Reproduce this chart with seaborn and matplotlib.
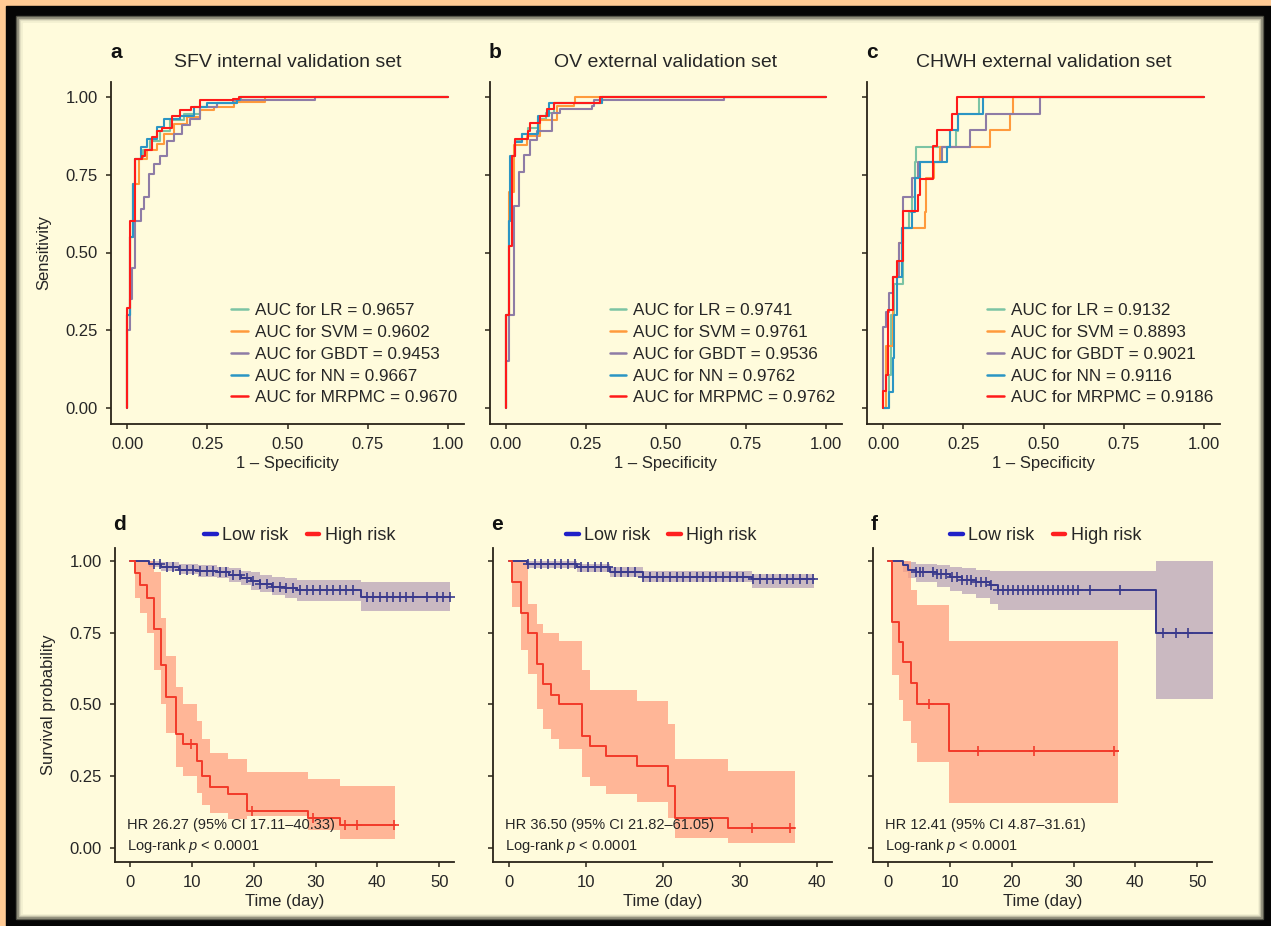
import numpy as np
import pandas as pd
import matplotlib
matplotlib.use('Agg')
import matplotlib.pyplot as plt
import seaborn as sns
from matplotlib.patches import Rectangle
from matplotlib.lines import Line2D

# ---------------- ROC data ----------------
models = ['LR', 'SVM', 'GBDT', 'NN', 'MRPMC']
roc_colors = ['#7cc4a4', '#ff9a3c', '#8e7ca6', '#2b95c4', '#ff1a1a']

auc_sfv = [0.9657, 0.9602, 0.9453, 0.9667, 0.9670]
auc_ov = [0.9741, 0.9761, 0.9536, 0.9762, 0.9762]
auc_chwh = [0.9132, 0.8893, 0.9021, 0.9116, 0.9186]

# SFV internal validation set
sfv_lr_fpr = [0, 0, 0.008, 0.02, 0.026, 0.05, 0.073, 0.104, 0.135, 0.177, 0.228, 0.28, 0.343, 0.355, 1.0]
sfv_lr_tpr = [0, 0.3, 0.55, 0.72, 0.80, 0.83, 0.86, 0.89, 0.925, 0.947, 0.968, 0.98, 0.984, 1.0, 1.0]
sfv_svm_fpr = [0, 0, 0.01, 0.02, 0.036, 0.062, 0.093, 0.114, 0.145, 0.187, 0.228, 0.27, 0.332, 0.43, 1.0]
sfv_svm_tpr = [0, 0.3, 0.55, 0.72, 0.80, 0.83, 0.85, 0.88, 0.914, 0.936, 0.957, 0.968, 0.984, 1.0, 1.0]
sfv_gbdt_fpr = [0, 0, 0.008, 0.016, 0.026, 0.042, 0.052, 0.067, 0.083, 0.104, 0.125, 0.145, 0.171, 0.197,
                0.228, 0.28, 0.33, 0.587, 1.0]
sfv_gbdt_tpr = [0, 0.25, 0.35, 0.45, 0.60, 0.64, 0.68, 0.754, 0.786, 0.81, 0.86, 0.88, 0.91, 0.93,
                0.968, 0.98, 0.99, 1.0, 1.0]
sfv_nn_fpr = [0, 0, 0.008, 0.018, 0.026, 0.045, 0.062, 0.093, 0.114, 0.166, 0.208, 0.25, 0.343, 0.353, 1.0]
sfv_nn_tpr = [0, 0.3, 0.55, 0.72, 0.80, 0.84, 0.866, 0.904, 0.93, 0.94, 0.968, 0.98, 0.99, 1.0, 1.0]
sfv_mrpmc_fpr = [0, 0, 0.01, 0.026, 0.047, 0.057, 0.078, 0.093, 0.109, 0.14, 0.166, 0.2, 0.228, 0.33, 0.348, 1.0]
sfv_mrpmc_tpr = [0, 0.32, 0.60, 0.80, 0.81, 0.83, 0.87, 0.89, 0.90, 0.94, 0.957, 0.968, 0.99, 0.995, 1.0, 1.0]

# OV external validation set
ov_lr_fpr = [0, 0, 0.008, 0.016, 0.029, 0.05, 0.07, 0.1, 0.125, 0.15, 0.3, 1.0]
ov_lr_tpr = [0, 0.3, 0.6, 0.81, 0.86, 0.88, 0.90, 0.93, 0.95, 0.98, 1.0, 1.0]
ov_svm_fpr = [0, 0, 0.008, 0.024, 0.065, 0.107, 0.159, 0.211, 0.216, 1.0]
ov_svm_tpr = [0, 0.3, 0.695, 0.845, 0.874, 0.927, 0.97, 0.98, 1.0, 1.0]
ov_gbdt_fpr = [0, 0, 0.008, 0.024, 0.04, 0.055, 0.076, 0.097, 0.144, 0.17, 0.268, 0.275, 0.68, 1.0]
ov_gbdt_tpr = [0, 0.15, 0.3, 0.65, 0.76, 0.815, 0.863, 0.89, 0.95, 0.96, 0.97, 0.99, 1.0, 1.0]
ov_nn_fpr = [0, 0, 0.008, 0.014, 0.029, 0.05, 0.1, 0.133, 0.3, 1.0]
ov_nn_tpr = [0, 0.3, 0.6, 0.81, 0.855, 0.88, 0.94, 0.98, 1.0, 1.0]
ov_mrpmc_fpr = [0, 0, 0.008, 0.019, 0.029, 0.07, 0.076, 0.107, 0.128, 0.15, 0.294, 1.0]
ov_mrpmc_tpr = [0, 0.3, 0.52, 0.81, 0.865, 0.89, 0.918, 0.94, 0.96, 0.98, 1.0, 1.0]

# CHWH external validation set
chwh_lr_fpr = [0, 0.02, 0.025, 0.035, 0.062, 0.08, 0.09, 0.1, 0.104, 0.228, 0.235, 0.3, 1.0]
chwh_lr_tpr = [0, 0.105, 0.3, 0.4, 0.58, 0.63, 0.68, 0.79, 0.84, 0.89, 0.947, 1.0, 1.0]
chwh_svm_fpr = [0, 0.01, 0.03, 0.05, 0.06, 0.13, 0.135, 0.16, 0.176, 0.332, 0.395, 0.405, 1.0]
chwh_svm_tpr = [0, 0.2, 0.42, 0.53, 0.58, 0.63, 0.74, 0.79, 0.84, 0.893, 0.947, 1.0, 1.0]
chwh_gbdt_fpr = [0, 0, 0.01, 0.02, 0.03, 0.05, 0.063, 0.09, 0.11, 0.185, 0.27, 0.322, 0.488, 1.0]
chwh_gbdt_tpr = [0, 0.26, 0.31, 0.37, 0.42, 0.53, 0.68, 0.74, 0.79, 0.84, 0.893, 0.947, 1.0, 1.0]
chwh_nn_fpr = [0, 0.02, 0.03, 0.035, 0.045, 0.06, 0.09, 0.1, 0.115, 0.2, 0.21, 0.234, 0.31, 1.0]
chwh_nn_tpr = [0, 0.05, 0.16, 0.3, 0.42, 0.58, 0.63, 0.74, 0.79, 0.84, 0.895, 0.947, 1.0, 1.0]
chwh_mrpmc_fpr = [0, 0, 0.008, 0.016, 0.03, 0.042, 0.062, 0.11, 0.115, 0.156, 0.168, 0.216, 0.23, 1.0]
chwh_mrpmc_tpr = [0, 0.053, 0.107, 0.316, 0.42, 0.474, 0.632, 0.684, 0.737, 0.842, 0.895, 0.947, 1.0, 1.0]

# ---------------- Kaplan-Meier data ----------------
# panel d (SFV)
d_high_t = [0, 0.8, 1.6, 2.7, 3.9, 5.0, 5.8, 7.5, 8.6, 10.8, 11.6, 12.9, 15.9, 19.0, 28.8, 33.9]
d_high_s = [1.0, 0.957, 0.916, 0.87, 0.764, 0.636, 0.525, 0.397, 0.362, 0.303, 0.251, 0.21, 0.187, 0.128, 0.105, 0.078]
d_high_up = [1.0, 1.0, 1.0, 1.0, 0.96, 0.80, 0.67, 0.56, 0.50, 0.44, 0.38, 0.33, 0.31, 0.263, 0.24, 0.216]
d_high_lo = [1.0, 0.87, 0.82, 0.75, 0.62, 0.50, 0.40, 0.28, 0.25, 0.19, 0.15, 0.12, 0.10, 0.11, 0.06, 0.03]
d_high_end = 42.8
d_high_cens = [9.8, 19.7, 29.6, 34.8, 36.7, 42.7]
d_low_t = [0, 3, 5, 8, 11, 14, 16, 18, 19.5, 21, 23, 25, 27, 37.4]
d_low_s = [1.0, 0.99, 0.98, 0.97, 0.965, 0.96, 0.95, 0.94, 0.93, 0.92, 0.91, 0.905, 0.9, 0.875]
d_low_up = [1.0, 1.0, 0.995, 0.99, 0.985, 0.98, 0.975, 0.965, 0.96, 0.95, 0.945, 0.94, 0.935, 0.925]
d_low_lo = [1.0, 0.98, 0.965, 0.955, 0.945, 0.94, 0.925, 0.915, 0.90, 0.89, 0.88, 0.87, 0.86, 0.825]
d_low_end = 51.8
d_low_cens = [3.8, 4.8, 5.9, 7.0, 8.1, 9.2, 10.2, 11.3, 12.4, 13.5, 14.5, 15.6, 16.7, 17.8, 18.9, 19.9,
              21.0, 22.1, 23.2, 24.2, 25.3, 26.4, 27.5, 28.6, 29.6, 30.7, 31.8, 32.9, 34.0, 35.0, 36.1,
              38.3, 39.3, 40.4, 41.5, 42.6, 43.6, 44.7, 45.8, 48.0, 49.6, 50.7, 51.7]

# panel e (OV)
e_high_t = [0, 0.43, 1.5, 2.5, 3.6, 4.4, 5.4, 6.5, 9.5, 10.5, 12.6, 16.6, 20.6, 21.6, 28.5]
e_high_s = [1.0, 0.925, 0.817, 0.747, 0.642, 0.57, 0.534, 0.5, 0.389, 0.354, 0.319, 0.284, 0.214, 0.105, 0.068]
e_high_up = [1.0, 1.0, 1.0, 0.85, 0.78, 0.75, 0.75, 0.72, 0.62, 0.55, 0.55, 0.51, 0.43, 0.31, 0.268]
e_high_lo = [1.0, 0.84, 0.69, 0.607, 0.484, 0.414, 0.38, 0.344, 0.245, 0.216, 0.187, 0.158, 0.105, 0.035, 0.018]
e_high_end = 37.1
e_high_cens = [31.5, 36.5]
e_low_t = [0, 2.3, 8.8, 13.1, 17.4, 31.6]
e_low_s = [1.0, 0.99, 0.978, 0.963, 0.945, 0.936]
e_low_up = [1.0, 1.0, 0.99, 0.98, 0.965, 0.955]
e_low_lo = [1.0, 0.975, 0.96, 0.945, 0.925, 0.905]
e_low_end = 39.6
e_low_cens = [2.5, 3.4, 4.2, 5.1, 6.0, 6.8, 7.7, 8.6, 9.4, 10.3, 11.2, 12.0, 12.9, 13.8, 14.6, 15.5,
              16.4, 17.4, 18.3, 19.2, 20.0, 20.9, 21.8, 22.6, 23.5, 24.4, 25.2, 26.1, 26.9, 27.8, 28.7,
              29.6, 30.4, 31.7, 32.6, 33.5, 34.3, 35.2, 36.1, 36.9, 37.8, 38.7, 39.5]

# panel f (CHWH)
f_high_t = [0, 0.65, 1.7, 2.5, 3.7, 4.7, 9.8]
f_high_s = [1.0, 0.787, 0.717, 0.646, 0.574, 0.502, 0.336]
f_high_up = [1.0, 1.0, 1.0, 1.0, 0.9, 0.845, 0.72]
f_high_lo = [1.0, 0.603, 0.516, 0.44, 0.365, 0.30, 0.157]
f_high_end = 37.2
f_high_cens = [6.6, 14.6, 23.6, 36.5]
f_low_t = [0, 2.5, 3.3, 4.6, 7.9, 10.0, 11.9, 14.3, 16.5, 17.8, 43.4]
f_low_s = [1.0, 0.985, 0.97, 0.96, 0.955, 0.945, 0.935, 0.925, 0.915, 0.90, 0.75]
f_low_up = [1.0, 1.0, 0.995, 0.99, 0.985, 0.98, 0.975, 0.97, 0.965, 0.965, 1.0]
f_low_lo = [1.0, 0.96, 0.94, 0.925, 0.91, 0.895, 0.885, 0.87, 0.85, 0.83, 0.52]
f_low_end = 52.9
f_low_cens = [4.6, 5.1, 5.6, 7.3, 7.9, 8.6, 9.4, 10.3, 11.1, 11.9, 12.7, 13.5, 14.3, 15.1, 15.9, 16.7,
              17.8, 18.6, 19.4, 20.2, 21.0, 21.8, 22.7, 23.5, 24.3, 25.1, 25.9, 26.7, 27.5, 28.3, 29.1,
              29.9, 30.7, 32.6, 37.6, 44.5, 46.6, 48.5, 52.7]

hr_d = 'HR 26.27 (95% CI 17.11–40.33)'
hr_e = 'HR 36.50 (95% CI 21.82–61.05)'
hr_f = 'HR 12.41 (95% CI 4.87–31.61)'

# ---------------- style ----------------
CREAM = '#fffbdc'
TEXT = '#262626'
AXC = '#2a2418'
LOW_LINE = '#3a3a8c'
LOW_FILL = '#b9a3b8'
HIGH_LINE = '#f23a2a'
HIGH_FILL = '#ff9f80'

sns.set_theme(style='ticks')
plt.rcParams['font.family'] = ['Liberation Sans', 'DejaVu Sans']
plt.rcParams['mathtext.fontset'] = 'custom'
plt.rcParams['mathtext.it'] = 'Liberation Sans:italic'
plt.rcParams['mathtext.rm'] = 'Liberation Sans'

W, H = 1271, 926
fig = plt.figure(figsize=(W / 100, H / 100), dpi=100)
fig.patch.set_facecolor('#ffca94')


def px_rect(x0, y0, x1, y1, color):
    fig.patches.append(Rectangle((x0 / W, 1 - y1 / H), (x1 - x0) / W, (y1 - y0) / H,
                                 transform=fig.transFigure, color=color, zorder=-10))


# frame: orange outer, black band, soft shadow, cream panel
px_rect(6, 6, W, H, '#050505')
shades = ['#4a4a40', '#8c8a78', '#bdbaa2', '#dedbbf', '#f2efd0']
for i, c in enumerate(shades):
    px_rect(16 + i * 1.3, 16 + i * 1.3, 1263 - i * 1.3, 919 - i * 1.3, c)
px_rect(22.5, 22.5, 1256.5, 912.5, CREAM)


def style_axes(ax):
    ax.set_facecolor('none')
    sns.despine(ax=ax)
    for s in ['left', 'bottom']:
        ax.spines[s].set_color(AXC)
        ax.spines[s].set_linewidth(1.3)
    ax.tick_params(axis='both', colors=AXC, labelcolor=TEXT, labelsize=12,
                   length=3.5, width=1.1, pad=6)
    ax.grid(False)


def px_axes(x0, y0, x1, y1):
    return fig.add_axes([x0 / W, 1 - y1 / H, (x1 - x0) / W, (y1 - y0) / H])


# ---------------- ROC panels ----------------
roc_sets = [
    ('a', 'SFV internal validation set', auc_sfv,
     [(sfv_lr_fpr, sfv_lr_tpr), (sfv_svm_fpr, sfv_svm_tpr), (sfv_gbdt_fpr, sfv_gbdt_tpr),
      (sfv_nn_fpr, sfv_nn_tpr), (sfv_mrpmc_fpr, sfv_mrpmc_tpr)], (111, 464)),
    ('b', 'OV external validation set', auc_ov,
     [(ov_lr_fpr, ov_lr_tpr), (ov_svm_fpr, ov_svm_tpr), (ov_gbdt_fpr, ov_gbdt_tpr),
      (ov_nn_fpr, ov_nn_tpr), (ov_mrpmc_fpr, ov_mrpmc_tpr)], (490, 842)),
    ('c', 'CHWH external validation set', auc_chwh,
     [(chwh_lr_fpr, chwh_lr_tpr), (chwh_svm_fpr, chwh_svm_tpr), (chwh_gbdt_fpr, chwh_gbdt_tpr),
      (chwh_nn_fpr, chwh_nn_tpr), (chwh_mrpmc_fpr, chwh_mrpmc_tpr)], (867, 1220)),
]

for k, (letter, title, aucs, curves, (xl, xr)) in enumerate(roc_sets):
    ax = px_axes(xl, 81.5, xr, 423.5)
    rows = []
    labels = []
    for m, auc, (fpr, tpr) in zip(models, aucs, curves):
        lab = f'AUC for {m} = {auc:.4f}'
        labels.append(lab)
        rows.append(pd.DataFrame({'fpr': fpr, 'tpr': tpr, 'model': lab}))
    df = pd.concat(rows, ignore_index=True)
    sns.lineplot(data=df, x='fpr', y='tpr', hue='model', hue_order=labels,
                 palette=roc_colors, sort=False, estimator=None, units='model',
                 drawstyle='steps-post', linewidth=1.5, ax=ax)
    ax.set_xlim(-0.05, 1.05)
    ax.set_ylim(-0.05, 1.05)
    ticks = [0, 0.25, 0.5, 0.75, 1.0]
    ax.set_xticks(ticks)
    ax.set_xticklabels(['0.00', '0.25', '0.50', '0.75', '1.00'])
    ax.set_yticks(ticks)
    style_axes(ax)
    if k == 0:
        ax.set_yticklabels(['0.00', '0.25', '0.50', '0.75', '1.00'])
        ax.set_ylabel('Sensitivity', fontsize=12, color=TEXT, labelpad=10)
    else:
        ax.set_yticklabels([])
        ax.set_ylabel('')
    ax.set_xlabel('1 – Specificity', fontsize=12, color=TEXT, labelpad=3)
    sns.move_legend(ax, 'upper left', bbox_to_anchor=(0.322, 0.372), frameon=False,
                    title=None, fontsize=12.3, handlelength=0.95, handletextpad=0.4,
                    labelspacing=0.4, borderaxespad=0)
    for h in ax.get_legend().get_lines():
        h.set_linewidth(1.8)
    for t in ax.get_legend().get_texts():
        t.set_color(TEXT)
    ax.text(0.5, 1.057, title, transform=ax.transAxes, ha='center', va='center',
            fontsize=14, color=TEXT)
    fig.text((xl - 1) / W, 1 - 53 / H, letter, fontsize=15, fontweight='bold',
             color='#111111', ha='left', va='center')


# ---------------- KM panels ----------------
def km_group(ax, t, s, up, lo, end, cens, line_c, fill_c):
    tt = list(t) + [end]
    ss = list(s) + [s[-1]]
    uu = list(up) + [up[-1]]
    ll = list(lo) + [lo[-1]]
    ax.fill_between(tt, ll, uu, step='post', color=fill_c, alpha=0.75, linewidth=0, zorder=1)
    sns.lineplot(x=tt, y=ss, drawstyle='steps-post', color=line_c, linewidth=1.4,
                 sort=False, estimator=None, ax=ax, zorder=3)
    idx = np.searchsorted(np.asarray(t), np.asarray(cens), side='right') - 1
    cy = np.asarray(s)[idx]
    sns.scatterplot(x=cens, y=cy, marker='+', s=60, color=line_c, linewidth=1.2, ax=ax, zorder=4)


km_sets = [
    ('d', hr_d, (d_high_t, d_high_s, d_high_up, d_high_lo, d_high_end, d_high_cens),
     (d_low_t, d_low_s, d_low_up, d_low_lo, d_low_end, d_low_cens), (115, 454), (-2.43, 52.4),
     [0, 10, 20, 30, 40, 50], 0.545),
    ('e', hr_e, (e_high_t, e_high_s, e_high_up, e_high_lo, e_high_end, e_high_cens),
     (e_low_t, e_low_s, e_low_up, e_low_lo, e_low_end, e_low_cens), (493, 832), (-2.08, 41.95),
     [0, 10, 20, 30, 40], 0.497),
    ('f', hr_f, (f_high_t, f_high_s, f_high_up, f_high_lo, f_high_end, f_high_cens),
     (f_low_t, f_low_s, f_low_up, f_low_lo, f_low_end, f_low_cens), (873, 1212), (-2.43, 52.4),
     [0, 10, 20, 30, 40, 50], 0.51),
]

for k, (letter, hr, high, low, (xl, xr), xlim, xt, lx) in enumerate(km_sets):
    ax = px_axes(xl, 548, xr, 862)
    km_group(ax, *low, LOW_LINE, LOW_FILL)
    km_group(ax, *high, HIGH_LINE, HIGH_FILL)
    ax.set_xlim(*xlim)
    ax.set_ylim(-0.05, 1.045)
    ax.set_xticks(xt)
    ax.set_yticks([0, 0.25, 0.5, 0.75, 1.0])
    style_axes(ax)
    if k == 0:
        ax.set_yticklabels(['0.00', '0.25', '0.50', '0.75', '1.00'])
        ax.set_ylabel('Survival probability', fontsize=12, color=TEXT, labelpad=10)
    else:
        ax.set_yticklabels([])
        ax.set_ylabel('')
    ax.set_xlabel('Time (day)', fontsize=12, color=TEXT, labelpad=3)
    ax.text(0.035, 0.117, hr, transform=ax.transAxes, fontsize=10.5, color=TEXT,
            ha='left', va='center', zorder=6)
    ax.text(0.035, 0.052, 'Log-rank $\\it{p}$ < 0.0001', transform=ax.transAxes,
            fontsize=10.5, color=TEXT, ha='left', va='center', zorder=6)
    handles = [Line2D([], [], color='#2020c8', linewidth=3.2),
               Line2D([], [], color='#ff2020', linewidth=3.2)]
    ax.legend(handles, ['Low risk', 'High risk'], loc='lower center',
              bbox_to_anchor=(lx, 0.99), ncol=2, frameon=False, fontsize=13,
              handlelength=0.7, handletextpad=0.3, columnspacing=1.0,
              labelcolor=TEXT, borderaxespad=0)
    fig.text((xl - 2) / W, 1 - 524 / H, letter, fontsize=15, fontweight='bold',
             color='#111111', ha='left', va='center')

fig.savefig('out.png', dpi=100, facecolor=fig.get_facecolor())
